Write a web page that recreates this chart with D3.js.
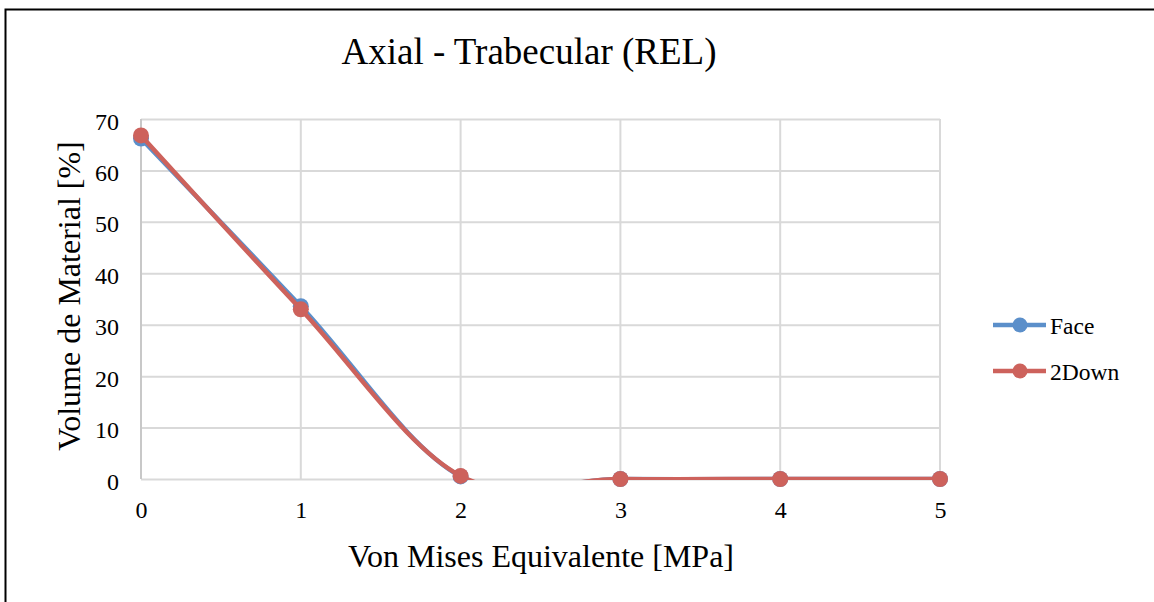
<!DOCTYPE html>
<html>
<head>
<meta charset="utf-8">
<script src="https://cdn.jsdelivr.net/npm/d3@7"></script>
<style>
  html, body { margin: 0; padding: 0; background: #fff; }
  svg { display: block; font-family: "Liberation Serif", "DejaVu Serif", serif; }
</style>
</head>
<body>
<svg id="chart" width="1154" height="602"></svg>
<script>
// Stress levels (MPa) on the x axis
const stress = [0, 1, 2, 3, 4, 5];
// Material volume (%) for each load case
const faceValues = [66.2, 33.6, 0.5, 0, 0, 0];
const downValues = [66.8, 33.0, 0.6, 0, 0, 0];
const seriesNames = ["Face", "2Down"];
const seriesColors = ["#5b8fca", "#cd625c"];
const yTicks = [0, 10, 20, 30, 40, 50, 60, 70];
const xTicks = [0, 1, 2, 3, 4, 5];

const svg = d3.select("#chart");
const W = 1154, H = 602;

// outer frame
svg.append("rect")
  .attr("x", 5.5).attr("y", 9.5)
  .attr("width", W).attr("height", H)
  .attr("fill", "none").attr("stroke", "#000").attr("stroke-width", 2);

const plot = { left: 141, right: 940, top: 119, bottom: 479 };

const x = d3.scaleLinear().domain([0, 5]).range([plot.left, plot.right]);
const y = d3.scaleLinear().domain([0, 70]).range([plot.bottom, plot.top]);

// gridlines
const grid = svg.append("g");
grid.selectAll("line.h").data(yTicks).join("line")
  .attr("x1", plot.left).attr("x2", plot.right)
  .attr("y1", d => y(d) + 0.5).attr("y2", d => y(d) + 0.5)
  .attr("stroke", "#d9d9d9").attr("stroke-width", 2);
grid.selectAll("line.v").data(xTicks).join("line")
  .attr("x1", d => x(d)).attr("x2", d => x(d))
  .attr("y1", plot.top).attr("y2", plot.bottom)
  .attr("stroke", d => d === 0 ? "#c8c8c8" : "#d9d9d9").attr("stroke-width", 2);

// axes (labels only; lines come from the grid)
const yAxis = svg.append("g")
  .attr("transform", `translate(${plot.left - 22},0)`)
  .call(d3.axisLeft(y).tickValues(yTicks).tickFormat(d3.format("d")).tickSize(0).tickPadding(0));
yAxis.select(".domain").remove();
yAxis.selectAll("text")
  .attr("font-family", "Liberation Serif, serif")
  .attr("font-size", 24).attr("fill", "#000").attr("dy", "0.42em");

const xAxis = svg.append("g")
  .attr("transform", `translate(0,${plot.bottom + 22})`)
  .call(d3.axisBottom(x).tickValues(xTicks).tickFormat(d3.format("d")).tickSize(0).tickPadding(0));
xAxis.select(".domain").remove();
xAxis.selectAll("text")
  .attr("font-family", "Liberation Serif, serif")
  .attr("font-size", 24).attr("fill", "#000").attr("dy", "0.71em");

// clip lines to the plot area
svg.append("clipPath").attr("id", "plotClip")
  .append("rect")
  .attr("x", plot.left - 20).attr("y", plot.top - 20)
  .attr("width", plot.right - plot.left + 40)
  .attr("height", plot.bottom - plot.top + 21);

const line = d3.line()
  .x((d, i) => x(stress[i]))
  .y(d => y(d))
  .curve(d3.curveCatmullRom.alpha(0));

const seriesData = [faceValues, downValues];
seriesData.forEach((vals, k) => {
  const g = svg.append("g");
  g.append("path")
    .datum(vals)
    .attr("d", line)
    .attr("fill", "none")
    .attr("stroke", seriesColors[k])
    .attr("stroke-width", 4.5)
    .attr("stroke-linejoin", "round")
    .attr("clip-path", "url(#plotClip)");
  g.selectAll("circle").data(vals).join("circle")
    .attr("cx", (d, i) => x(stress[i]))
    .attr("cy", d => y(d))
    .attr("r", 8)
    .attr("fill", seriesColors[k]);
});

// title
svg.append("text")
  .attr("x", 529).attr("y", 64)
  .attr("text-anchor", "middle")
  .attr("font-size", 37).attr("fill", "#000")
  .text("Axial - Trabecular (REL)");

// axis titles
svg.append("text")
  .attr("transform", `translate(80,${(plot.top + plot.bottom) / 2 - 3}) rotate(-90)`)
  .attr("text-anchor", "middle")
  .attr("font-size", 32).attr("fill", "#000")
  .text("Volume de Material [%]");

svg.append("text")
  .attr("x", 541).attr("y", 567)
  .attr("text-anchor", "middle")
  .attr("font-size", 32).attr("fill", "#000")
  .text("Von Mises Equivalente [MPa]");

// legend
const legend = svg.append("g");
seriesNames.forEach((name, k) => {
  const ly = 325 + k * 46;
  legend.append("line")
    .attr("x1", 993).attr("x2", 1046).attr("y1", ly).attr("y2", ly)
    .attr("stroke", seriesColors[k]).attr("stroke-width", 4.5);
  legend.append("circle")
    .attr("cx", 1020).attr("cy", ly).attr("r", 7.5)
    .attr("fill", seriesColors[k]);
  legend.append("text")
    .attr("x", 1050).attr("y", ly).attr("dy", "0.38em")
    .attr("font-size", 23.5).attr("fill", "#000")
    .text(name);
});
</script>
</body>
</html>
